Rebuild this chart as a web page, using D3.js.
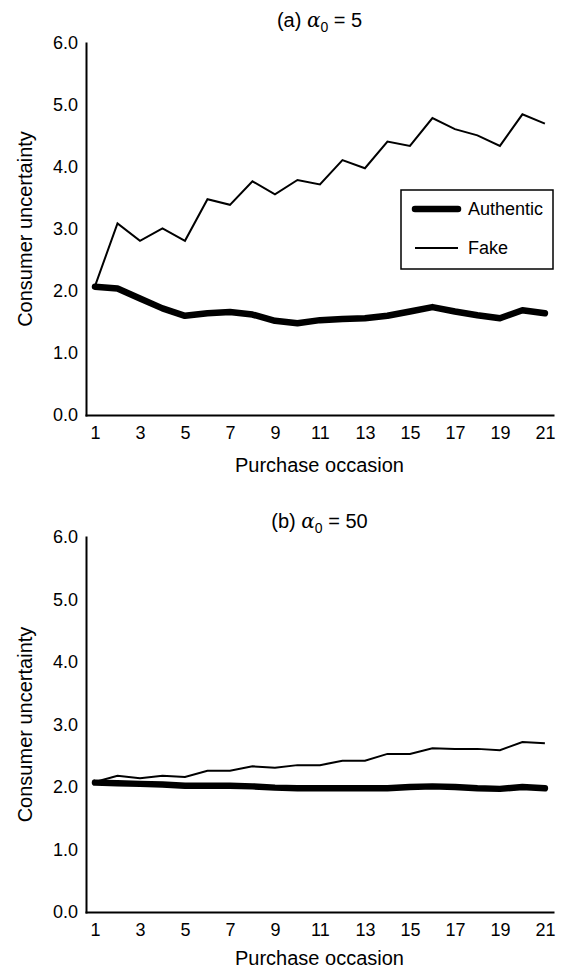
<!DOCTYPE html>
<html>
<head>
<meta charset="utf-8">
<script src="https://cdn.jsdelivr.net/npm/d3@7"></script>
<style>
  body { margin: 0; background: #fff; }
  svg { display: block; font-family: "Liberation Sans", Arial, Helvetica, sans-serif; }
</style>
</head>
<body>
<svg id="chart"></svg>
<script>
// purchase occasions on the x axis
const occasions = [1, 2, 3, 4, 5, 6, 7, 8, 9, 10, 11, 12, 13, 14, 15, 16, 17, 18, 19, 20, 21];
const xTickValues = [1, 3, 5, 7, 9, 11, 13, 15, 17, 19, 21];
const yTickValues = [0, 1, 2, 3, 4, 5, 6];
const seriesNames = ["Authentic", "Fake"];

// (a) alpha0 = 5
const authenticA = [2.07, 2.04, 1.88, 1.72, 1.60, 1.64, 1.66, 1.62, 1.52, 1.48, 1.53,
                    1.55, 1.56, 1.60, 1.67, 1.74, 1.67, 1.61, 1.56, 1.69, 1.64];
const fakeA = [2.08, 3.09, 2.81, 3.01, 2.81, 3.48, 3.39, 3.77, 3.56, 3.79, 3.72,
               4.11, 3.98, 4.41, 4.34, 4.79, 4.61, 4.51, 4.34, 4.85, 4.70];

// (b) alpha0 = 50
const authenticB = [2.07, 2.06, 2.05, 2.04, 2.02, 2.02, 2.02, 2.01, 1.99, 1.98, 1.98,
                    1.98, 1.98, 1.98, 2.00, 2.01, 2.00, 1.98, 1.97, 2.00, 1.98];
const fakeB = [2.08, 2.18, 2.14, 2.18, 2.16, 2.26, 2.26, 2.33, 2.31, 2.35, 2.35,
               2.42, 2.42, 2.53, 2.53, 2.62, 2.61, 2.61, 2.59, 2.72, 2.70];

const width = 569;
const height = 970;

const svg = d3.select("#chart")
  .attr("width", width)
  .attr("height", height);

const panels = [
  { label: "(a) ", alpha: "5", authentic: authenticA, fake: fakeA,
    top: 43, bottom: 415, titleY: 27, xTitleY: 472, legend: true },
  { label: "(b) ", alpha: "50", authentic: authenticB, fake: fakeB,
    top: 537, bottom: 912, titleY: 528, xTitleY: 965, legend: false }
];

// x domain padded a little so the axis line runs past 1 and 21
const x = d3.scaleLinear()
  .domain([0.6, 21.36])
  .range([86, 553]);

const styleStroke = { Authentic: 6.5, Fake: 2 };

panels.forEach(p => {
  const g = svg.append("g");

  const y = d3.scaleLinear()
    .domain([0, 6])
    .range([p.bottom, p.top]);

  // panel title with alpha_0
  const title = g.append("text")
    .attr("x", (x.range()[0] + x.range()[1]) / 2)
    .attr("y", p.titleY)
    .attr("text-anchor", "middle")
    .attr("font-size", "20px")
    .attr("fill", "#000");
  title.append("tspan").text(p.label);
  title.append("tspan").attr("font-style", "italic").attr("font-family", "'DejaVu Serif', serif").text("α");
  title.append("tspan").attr("font-size", "14px").attr("dy", "5").text("0");
  title.append("tspan").attr("dy", "-5").text(" = " + p.alpha);

  // x axis
  const xAxis = g.append("g")
    .attr("transform", `translate(0,${p.bottom})`)
    .call(d3.axisBottom(x).tickValues(xTickValues).tickSize(0).tickSizeOuter(0).tickPadding(11));
  xAxis.attr("font-size", null).attr("font-family", null);
  xAxis.select(".domain").attr("stroke", "#000").attr("stroke-width", 2).attr("stroke-linecap", "square");
  xAxis.selectAll("text").attr("font-size", "18px").attr("fill", "#000");

  // y axis
  const yAxis = g.append("g")
    .attr("transform", `translate(${x.range()[0]},0)`)
    .call(d3.axisLeft(y).tickValues(yTickValues).tickFormat(d3.format(".1f"))
      .tickSize(0).tickSizeOuter(0).tickPadding(8));
  yAxis.attr("font-size", null).attr("font-family", null);
  yAxis.select(".domain").attr("stroke", "#000").attr("stroke-width", 2).attr("stroke-linecap", "square");
  yAxis.selectAll("text").attr("font-size", "18px").attr("fill", "#000");

  // axis titles
  g.append("text")
    .attr("x", (x.range()[0] + x.range()[1]) / 2)
    .attr("y", p.xTitleY)
    .attr("text-anchor", "middle")
    .attr("font-size", "20px")
    .attr("fill", "#000")
    .text("Purchase occasion");

  g.append("text")
    .attr("transform", `translate(32,${(p.top + p.bottom) / 2}) rotate(-90)`)
    .attr("text-anchor", "middle")
    .attr("font-size", "20px")
    .attr("fill", "#000")
    .text("Consumer uncertainty");

  const line = d3.line()
    .x((d, i) => x(occasions[i]))
    .y(d => y(d));

  g.append("path")
    .datum(p.fake)
    .attr("d", line)
    .attr("fill", "none")
    .attr("stroke", "#000")
    .attr("stroke-width", styleStroke.Fake)
    .attr("stroke-linejoin", "miter");

  g.append("path")
    .datum(p.authentic)
    .attr("d", line)
    .attr("fill", "none")
    .attr("stroke", "#000")
    .attr("stroke-width", styleStroke.Authentic)
    .attr("stroke-linejoin", "round")
    .attr("stroke-linecap", "round");

  if (p.legend) {
    const lg = g.append("g").attr("transform", "translate(401,190)");
    lg.append("rect")
      .attr("width", 152)
      .attr("height", 79)
      .attr("fill", "#fff")
      .attr("stroke", "#000")
      .attr("stroke-width", 1.5);

    seriesNames.forEach((name, i) => {
      const ly = 19 + i * 39;
      lg.append("line")
        .attr("x1", 14).attr("x2", 57)
        .attr("y1", ly).attr("y2", ly)
        .attr("stroke", "#000")
        .attr("stroke-width", styleStroke[name])
        .attr("stroke-linecap", name === "Authentic" ? "round" : "butt");
      lg.append("text")
        .attr("x", 67)
        .attr("y", ly)
        .attr("dy", "0.35em")
        .attr("font-size", "18px")
        .attr("fill", "#000")
        .text(name);
    });
  }
});
</script>
</body>
</html>
